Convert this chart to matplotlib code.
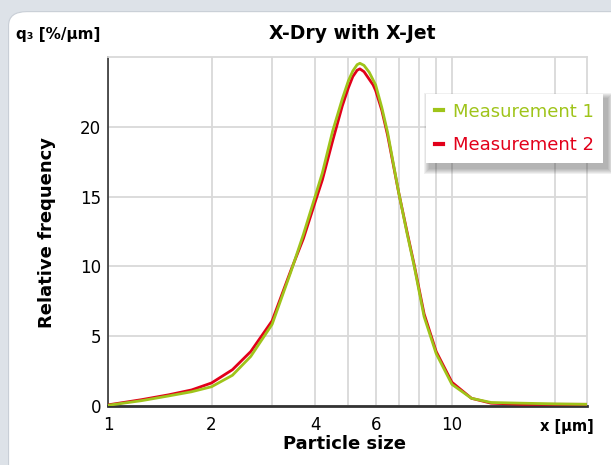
import matplotlib.pyplot as plt
from matplotlib.patches import FancyBboxPatch, Rectangle
from matplotlib.transforms import IdentityTransform
from matplotlib.ticker import FixedLocator, NullFormatter

# particle size [um] and q3 values
size = [1.0, 1.25, 1.5, 1.75, 2.0, 2.3, 2.6, 3.0, 3.4, 3.7, 4.0, 4.2, 4.5, 4.8, 5.0, 5.15,
        5.3, 5.4, 5.55, 5.75, 5.9, 6.0, 6.25, 6.5, 7.0, 7.4, 7.77, 8.3, 9.0, 10.0, 11.4, 13.0, 16.0, 20.0, 24.7]
meas1 = [0.05, 0.38, 0.72, 1.02, 1.38, 2.2, 3.55, 5.85, 9.6, 12.3, 15.0, 16.7, 19.7, 22.0, 23.3, 24.0,
         24.45, 24.55, 24.4, 23.9, 23.35, 23.0, 21.4, 19.6, 15.3, 12.4, 10.0, 6.4, 3.75, 1.55, 0.55, 0.25, 0.2, 0.15, 0.12]
meas2 = [0.08, 0.45, 0.8, 1.15, 1.65, 2.6, 3.9, 6.1, 9.7, 12.0, 14.6, 16.2, 19.0, 21.5, 22.8, 23.6,
         24.05, 24.15, 23.95, 23.4, 23.0, 22.6, 21.2, 19.4, 15.3, 12.5, 10.1, 6.6, 3.9, 1.7, 0.55, 0.2, 0.12, 0.12, 0.12]

yticks = [0, 5, 10, 15, 20]
xgrid = [1, 2, 3, 4, 5, 6, 7, 8, 9, 10, 20]
xlabels = [1, 2, 4, 6, 10]

green = '#9fc41a'
red = '#e2001a'

fig = plt.figure(figsize=(6.11, 4.65), dpi=100)
fig.patch.set_facecolor('#dde2e8')
panel = FancyBboxPatch((0.014, -0.05), 1.05, 1.025, boxstyle='round,pad=0,rounding_size=0.03',
                       transform=fig.transFigure, facecolor='white', edgecolor='#c8ced6', lw=0.8,
                       zorder=-10)
fig.add_artist(panel)

ax = fig.add_axes([0.1768, 0.1269, 0.7839, 0.7505])
ax.set_facecolor('white')
ax.plot(size, meas2, color=red, lw=2, label='Measurement 2', zorder=3)
ax.plot(size, meas1, color=green, lw=2, label='Measurement 1', zorder=4)

ax.set_xscale('log')
ax.set_xlim(1, 24.7)
ax.set_ylim(0, 25)
ax.xaxis.set_major_locator(FixedLocator(xgrid))
ax.xaxis.set_minor_locator(FixedLocator([]))
ax.xaxis.set_major_formatter(NullFormatter())
ax.xaxis.set_minor_formatter(NullFormatter())
ax.set_yticks(yticks)
ax.set_yticklabels([str(v) for v in yticks], fontsize=12)
for v in xlabels:
    ax.text(v, -0.054, str(v), transform=ax.get_xaxis_transform(), ha='center', va='center', fontsize=12)
ax.tick_params(length=0, pad=5)
ax.grid(True, color='#d9d9d9', lw=1.3)
ax.set_axisbelow(True)
for s in ['top', 'right']:
    ax.spines[s].set_color('#d9d9d9')
    ax.spines[s].set_linewidth(1.3)
ax.spines['left'].set_color('#333333')
ax.spines['left'].set_linewidth(1.2)
ax.spines['bottom'].set_color('#333333')
ax.spines['bottom'].set_linewidth(2)

fig.text(0.576, 0.927, 'X-Dry with X-Jet', ha='center', va='center', fontsize=13.5, fontweight='bold')
fig.text(0.027, 0.925, 'q₃ [%/µm]', ha='left', va='center', fontsize=11, fontweight='bold')
fig.text(0.077, 0.50, 'Relative frequency', rotation=90, ha='center', va='center', fontsize=13, fontweight='bold')
fig.text(0.564, 0.046, 'Particle size', ha='center', va='center', fontsize=13, fontweight='bold')
fig.text(0.928, 0.082, 'x [µm]', ha='center', va='center', fontsize=10.5, fontweight='bold')

handles, labels = ax.get_legend_handles_labels()
leg = ax.legend(handles[::-1], labels[::-1], loc='upper left', bbox_to_anchor=(0.682, 0.818),
                bbox_transform=fig.transFigure, fontsize=13, handlelength=0.45, handletextpad=0.55,
                borderpad=0.5, labelspacing=0.85, frameon=True, fancybox=False, framealpha=1)
leg.get_frame().set_edgecolor('white')
leg.get_frame().set_linewidth(0)
leg.set_zorder(10)
for line in leg.get_lines():
    line.set_linewidth(3)
for t, c in zip(leg.get_texts(), [green, red]):
    t.set_color(c)

# soft drop shadow behind the legend box
fig.canvas.draw()
bb = leg.get_frame().get_window_extent()
for k in range(6):
    grow = 6 - k
    ax.add_patch(Rectangle((bb.x0 + 4 - grow, bb.y0 - 5 - grow), bb.width + 2 * grow, bb.height + 2 * grow,
                           transform=IdentityTransform(), facecolor='#333333', edgecolor='none',
                           alpha=0.07, clip_on=False, zorder=9))

fig.savefig('out.png', dpi=100)
